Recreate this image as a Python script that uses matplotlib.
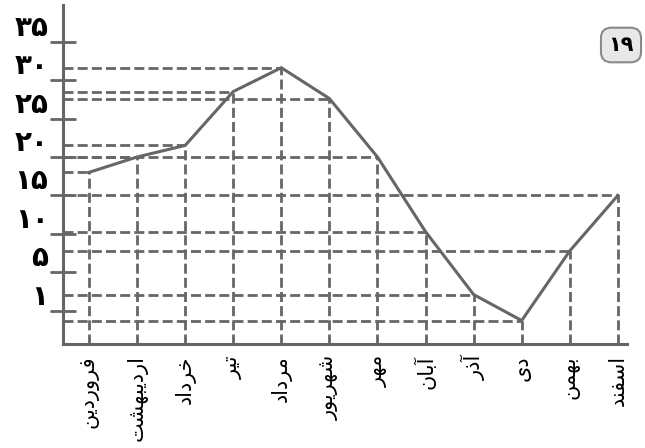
import numpy as np
import matplotlib
matplotlib.use("Agg")
import matplotlib.pyplot as plt

plt.rcParams['font.family'] = ['DejaVu Sans']

# Monthly values (Persian calendar months)
months = ["فروردین", "اردیبهشت", "خرداد", "تیر", "مرداد", "شهریور",
          "مهر", "آبان", "آذر", "دی", "بهمن", "اسفند"]
values = [18, 20, 21.5, 28.5, 31.6, 27.6, 20, 10.3, 2.7, 0, 7.8, 15]
y_ticks = [1, 5, 10, 15, 20, 25, 30, 35]
y_tick_labels = ["۱", "۵", "۱۰", "۱۵", "۲۰", "۲۵", "۳۰", "۳۵"]
badge_text = "۱۹"

# --- minimal Arabic-script shaping (presentation forms + visual order) ---
FORMS = {
    'ا': ('\uFE8D', '\uFE8E', None, None),
    'آ': ('\uFE81', '\uFE82', None, None),
    'ب': ('\uFE8F', '\uFE90', '\uFE91', '\uFE92'),
    'ت': ('\uFE95', '\uFE96', '\uFE97', '\uFE98'),
    'خ': ('\uFEA5', '\uFEA6', '\uFEA7', '\uFEA8'),
    'د': ('\uFEA9', '\uFEAA', None, None),
    'ذ': ('\uFEAB', '\uFEAC', None, None),
    'ر': ('\uFEAD', '\uFEAE', None, None),
    'س': ('\uFEB1', '\uFEB2', '\uFEB3', '\uFEB4'),
    'ش': ('\uFEB5', '\uFEB6', '\uFEB7', '\uFEB8'),
    'ف': ('\uFED1', '\uFED2', '\uFED3', '\uFED4'),
    'م': ('\uFEE1', '\uFEE2', '\uFEE3', '\uFEE4'),
    'ن': ('\uFEE5', '\uFEE6', '\uFEE7', '\uFEE8'),
    'ه': ('\uFEE9', '\uFEEA', '\uFEEB', '\uFEEC'),
    'و': ('\uFEED', '\uFEEE', None, None),
    'ی': ('\uFBFC', '\uFBFD', '\uFBFE', '\uFBFF'),
}


def shape(word):
    out = []
    n = len(word)
    for i, ch in enumerate(word):
        f = FORMS.get(ch)
        if f is None:
            out.append(ch)
            continue
        prev = FORMS.get(word[i - 1]) if i > 0 else None
        nxt = word[i + 1] if i + 1 < n else None
        join_prev = prev is not None and prev[2] is not None
        join_next = f[2] is not None and nxt is not None and nxt in FORMS
        if join_prev and join_next:
            out.append(f[3])
        elif join_prev:
            out.append(f[1])
        elif join_next:
            out.append(f[2])
        else:
            out.append(f[0])
    return ''.join(reversed(out))


# --- y scale: equal spacing between the labelled ticks ---
scale_vals = [-3] + y_ticks + [40]
scale_pos = list(range(-1, len(y_ticks) + 1))


def fwd(v):
    return np.interp(v, scale_vals, scale_pos)


def inv(p):
    return np.interp(p, scale_pos, scale_vals)


GRAY = '#666666'

fig = plt.figure(figsize=(6.45, 4.48), dpi=100)
ax = fig.add_axes([63 / 645, 1 - 344 / 448, (627 - 63) / 645, (344 - 5) / 448])
ax.set_yscale('function', functions=(fwd, inv))

x = np.arange(len(months))
x_lo, x_hi = -0.54, 11.19
y_lo, y_hi = float(inv(-0.86)), float(inv(7.95))
ax.set_xlim(x_lo, x_hi)
ax.set_ylim(y_lo, y_hi)

dash = (0, (3.6, 1.5))
for xi, v in zip(x, values):
    ax.plot([x_lo, xi], [v, v], color=GRAY, lw=2, ls=dash, zorder=2,
            dash_capstyle='butt')
    ax.plot([xi, xi], [y_lo, v], color=GRAY, lw=2, ls=dash, zorder=2,
            dash_capstyle='butt')

ax.plot(x, values, color=GRAY, lw=2.2, zorder=3, solid_joinstyle='miter')

for side in ('top', 'right'):
    ax.spines[side].set_visible(False)
for side in ('left', 'bottom'):
    ax.spines[side].set_color(GRAY)
    ax.spines[side].set_linewidth(2.2)

ax.set_yticks(y_ticks)
ax.set_yticklabels(y_tick_labels, va='bottom', fontsize=20, fontweight='bold')
ax.tick_params(axis='y', direction='inout', length=19, width=2, color=GRAY,
               pad=1)
ax.minorticks_off()

ax.set_xticks(x)
ax.set_xticklabels([shape(m) for m in months], rotation=90, fontsize=15)
ax.tick_params(axis='x', length=0, pad=8)

fig.text(621 / 645, 1 - 45 / 448, badge_text, ha='center', va='center',
         fontsize=15, fontweight='bold',
         bbox=dict(boxstyle='round,pad=0.35,rounding_size=0.5',
                   facecolor='#e8e8e8', edgecolor='#8a8a8a', lw=1.5))

fig.savefig('out.png', dpi=100)
